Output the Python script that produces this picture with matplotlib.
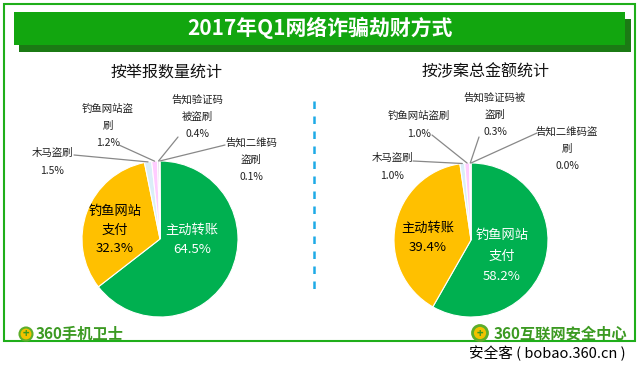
import numpy as np
import matplotlib.pyplot as plt
from matplotlib.patches import Rectangle, Circle

plt.rcParams['font.family'] = ['Noto Sans CJK SC', 'DejaVu Sans']

# data
title = '2017年Q1网络诈骗劫财方式'
left_title = '按举报数量统计'
right_title = '按涉案总金额统计'

left_labels = ['主动转账', '钓鱼网站\n支付', '木马盗刷', '钓鱼网站盗\n刷', '告知验证码\n被盗刷', '告知二维码\n盗刷']
left_vals = [64.5, 32.3, 1.5, 1.2, 0.4, 0.1]

right_labels = ['钓鱼网站\n支付', '主动转账', '木马盗刷', '钓鱼网站盗刷', '告知验证码被\n盗刷', '告知二维码盗\n刷']
right_vals = [58.2, 39.4, 1.0, 1.0, 0.3, 0.0]

colors = ['#00B050', '#FFC000', '#DAEEF8', '#FFCCFF', '#E4DFEC', '#FCE4D6']

W, H = 639, 369
fig = plt.figure(figsize=(W / 100, H / 100), dpi=100)
bg = fig.add_axes([0, 0, 1, 1])
bg.set_xlim(0, W)
bg.set_ylim(H, 0)
bg.axis('off')

# frame and banner
bg.add_patch(Rectangle((4, 4), 631, 337, fill=False, ec='#1FAE1A', lw=1.5))
bg.add_patch(Rectangle((19, 19), 612, 33, fc='#1B7A14', ec='none'))
bg.add_patch(Rectangle((14, 12), 611, 33, fc='#12A60F', ec='none'))
bg.text(320, 28, title, color='white', fontsize=15, fontweight='bold', ha='center', va='center')

bg.text(167, 72, left_title, fontsize=11.5, ha='center', va='center', color='#111111')
bg.text(486, 72, right_title, fontsize=11.5, ha='center', va='center', color='#111111')

# dashed divider
bg.plot([314, 314], [101, 292], ls=(0, (3, 3)), color='#1EAAE6', lw=1.8)

# logos
bg.add_patch(Circle((26, 334), 6.5, fc='#F2C200', ec='#5DAE2A', lw=1.5))
bg.text(26, 334, '+', color='#3A9A1E', fontsize=8, fontweight='bold', ha='center', va='center')
bg.text(36, 334, '360手机卫士', color='#3C9A22', fontsize=11, fontweight='bold', ha='left', va='center')
bg.add_patch(Circle((480, 333), 7.5, fc='#F2C200', ec='#5DAE2A', lw=2))
bg.text(480, 333, '+', color='#3A9A1E', fontsize=8, fontweight='bold', ha='center', va='center')
bg.text(494, 333, '360互联网安全中心', color='#3C9A22', fontsize=11, fontweight='bold', ha='left', va='center')
bg.text(626, 353, '安全客 ( bobao.360.cn )', color='black', fontsize=10.5, ha='right', va='center')


def draw_pie(cx, cy, r, vals, labels, inner, outer):
    ax = fig.add_axes([(cx - r) / W, (H - cy - r) / H, 2 * r / W, 2 * r / H])
    wedges, _ = ax.pie(vals, colors=colors, startangle=90, counterclock=False,
                       wedgeprops=dict(ec='white', lw=0.8))
    ax.set_xlim(-1, 1)
    ax.set_ylim(-1, 1)
    ax.axis('off')
    for i, (px, py, col, ls) in inner.items():
        txt = labels[i] + '\n' + '%.1f%%' % vals[i]
        ax.text(px, py, txt, color=col, fontsize=9.5, ha='center', va='center',
                linespacing=ls, transform=bg.transData, zorder=5)
    for i, (px, py, lx, ly) in outer.items():
        txt = labels[i] + '\n' + '%.1f%%' % vals[i]
        bg.text(px, py, txt, color='#222222', fontsize=7.5, ha='center', va='center', linespacing=1.9)
        w = wedges[i]
        ang = np.deg2rad((w.theta1 + w.theta2) / 2)
        ax.annotate('', xy=(np.cos(ang), np.sin(ang)), xytext=(lx, ly),
                    textcoords=bg.transData,
                    arrowprops=dict(arrowstyle='-', color='#888888', lw=0.9,
                                    shrinkA=0, shrinkB=0))
    return ax


draw_pie(160, 239, 78, left_vals, left_labels,
         {0: (192, 240, 'white', 1.6), 1: (115, 230, 'black', 1.6)},
         {2: (52, 162, 74, 155), 3: (108, 126, 119, 145),
          4: (197, 117, 178, 137), 5: (251, 160, 225, 145)})

draw_pie(471, 240, 77, right_vals, right_labels,
         {0: (502, 256, 'white', 1.75), 1: (428, 238, 'black', 1.6)},
         {2: (392, 167, 413, 161), 3: (419, 125, 432, 135),
          4: (495, 115, 479, 137), 5: (567, 149, 537, 133)})

fig.savefig('out.png', dpi=100, facecolor='white')
